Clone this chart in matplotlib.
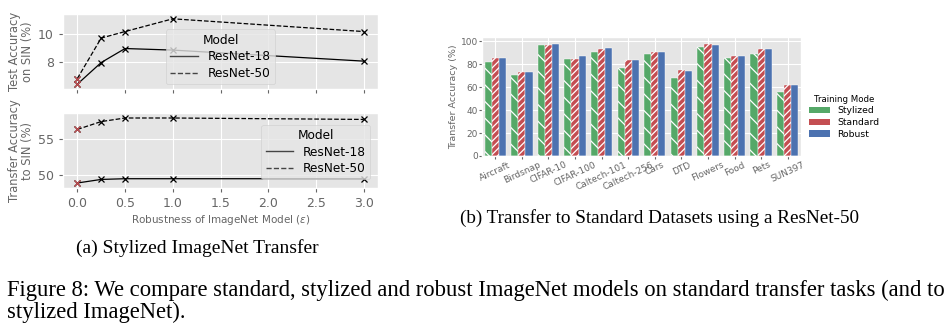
import numpy as np
import matplotlib.pyplot as plt
from matplotlib.patches import Patch
from matplotlib.lines import Line2D

plt.style.use('ggplot')
plt.rcParams['axes.facecolor'] = '#E5E5E5'
plt.rcParams['hatch.color'] = 'white'
plt.rcParams['hatch.linewidth'] = 0.9

# (a) stylized ImageNet transfer
eps = [0.0, 0.25, 0.5, 1.0, 3.0]
test_r18 = [6.44, 7.97, 8.96, 8.85, 8.07]
test_r50 = [6.84, 9.70, 10.16, 11.06, 10.16]
transfer_r18 = [48.9, 49.4, 49.5, 49.5, 49.5]
transfer_r50 = [56.4, 57.5, 58.0, 58.0, 57.8]

# (b) transfer to standard datasets
datasets = ['Aircraft', 'Birdsnap', 'CIFAR-10', 'CIFAR-100', 'Caltech-101', 'Caltech-256',
            'Cars', 'DTD', 'Flowers', 'Food', 'Pets', 'SUN397']
stylized = [81.7, 71.0, 97.1, 84.9, 90.7, 76.8, 89.3, 68.4, 95.0, 85.8, 89.3, 55.9]
standard = [85.5, 73.3, 97.1, 84.9, 93.3, 84.0, 90.7, 74.8, 97.4, 87.2, 93.0, 61.7]
robust = [85.5, 73.3, 98.0, 87.2, 94.2, 84.0, 90.7, 74.2, 96.5, 87.2, 93.0, 61.7]
modes = ['Stylized', 'Standard', 'Robust']
colors = ['#55A868', '#C44E52', '#4C72B0']
hatches = [r'\\', r'/////', '']

W, H = 950, 329
fig = plt.figure(figsize=(W / 100, H / 100), dpi=100)
fig.patch.set_facecolor('white')


def rect(x0, y0, x1, y1):
    return [x0 / W, 1 - y1 / H, (x1 - x0) / W, (y1 - y0) / H]


ax1 = fig.add_axes(rect(63, 14, 378, 89))
ax2 = fig.add_axes(rect(63, 113, 378, 188))
ax3 = fig.add_axes(rect(482, 37, 801, 156))

tick_col = '#666666'


def line_panel(ax, r18, r50):
    ax.plot(eps, r18, color='black', lw=0.9, ls='-', marker='x', ms=4, mew=0.9)
    ax.plot(eps, r50, color='black', lw=0.9, ls='--', marker='x', ms=4, mew=0.9)
    ax.plot([eps[0]], [r18[0]], ls='none', marker='x', color='#C44E52', ms=4, mew=0.9)
    ax.plot([eps[0]], [r50[0]], ls='none', marker='x', color='#C44E52', ms=4, mew=0.9)
    ax.set_xlim(-0.15, 3.15)
    ax.set_xticks([0.0, 0.5, 1.0, 1.5, 2.0, 2.5, 3.0])
    ax.tick_params(labelsize=9, colors=tick_col, length=3)
    handles = [Line2D([], [], color='#444444', lw=1.0, ls='-'),
               Line2D([], [], color='#444444', lw=1.0, ls='--')]
    return handles


leg_kw = dict(title='Model', fontsize=8.7, title_fontsize=8.7, frameon=True,
              facecolor='#E5E5E5', edgecolor='#CCCCCC', framealpha=0.8,
              handlelength=2.3, borderpad=0.35, labelspacing=0.3)

h = line_panel(ax1, test_r18, test_r50)
ax1.set_ylim(6.1, 11.4)
ax1.set_yticks([8, 10])
ax1.set_xticklabels([])
ax1.set_ylabel('Test Accuracy\non SIN (%)', fontsize=8.3, color=tick_col, labelpad=3,
               linespacing=1.0)
ax1.legend(h, ['ResNet-18', 'ResNet-50'], loc='center', bbox_to_anchor=(0.50, 0.43), **leg_kw)

h = line_panel(ax2, transfer_r18, transfer_r50)
ax2.set_ylim(48.2, 58.7)
ax2.set_yticks([50, 55])
ax2.set_xticklabels(['0.0', '0.5', '1.0', '1.5', '2.0', '2.5', '3.0'])
ax2.set_ylabel('Transfer Accuracy\nto SIN (%)', fontsize=8.3, color=tick_col, labelpad=3,
               linespacing=1.0)
ax2.set_xlabel(r'Robustness of ImageNet Model ($\epsilon$)', fontsize=7.5, color=tick_col,
               labelpad=2)
ax2.legend(h, ['ResNet-18', 'ResNet-50'], loc='center right', bbox_to_anchor=(0.995, 0.48),
           **leg_kw)

# bar panel
x = np.arange(len(datasets))
bw = 0.8 / 3
for i, (vals, c, ht) in enumerate(zip([stylized, standard, robust], colors, hatches)):
    ax3.bar(x + (i - 1) * bw, vals, width=bw, color=c, hatch=ht, edgecolor='white',
            linewidth=0.3)
ax3.set_xlim(-0.5, len(datasets) - 0.5)
ax3.set_ylim(0, 103.7)
ax3.set_yticks([0, 20, 40, 60, 80, 100])
ax3.set_xticks(x)
ax3.set_xticklabels(datasets, rotation=25, ha='center')
ax3.tick_params(labelsize=6.5, colors=tick_col, length=2, pad=1)
ax3.set_ylabel('Transfer Accuracy (%)', fontsize=6.8, color=tick_col, labelpad=2)
leg_h = [Patch(facecolor=c) for c in colors]
ax3.legend(leg_h, modes, title='Training Mode', fontsize=6.7, title_fontsize=6.2,
           loc='center left', bbox_to_anchor=(1.0, 0.33), frameon=False,
           handlelength=2.2, labelspacing=0.3)

# captions
serif = 'Liberation Serif'
fig.text(197 / W, 1 - 248 / H, '(a) Stylized ImageNet Transfer', ha='center', va='center',
         family=serif, fontsize=14)
fig.text(659 / W, 1 - 218 / H, '(b) Transfer to Standard Datasets using a ResNet-50',
         ha='center', va='center', family=serif, fontsize=13.8)
fig.text(7 / W, 1 - 290 / H,
         'Figure 8: We compare standard, stylized and robust ImageNet models on standard '
         'transfer tasks (and to', ha='left', va='center', family=serif, fontsize=16.3)
fig.text(7 / W, 1 - 312 / H, 'stylized ImageNet).', ha='left', va='center',
         family=serif, fontsize=16.3)

fig.savefig('out.png', dpi=100)
